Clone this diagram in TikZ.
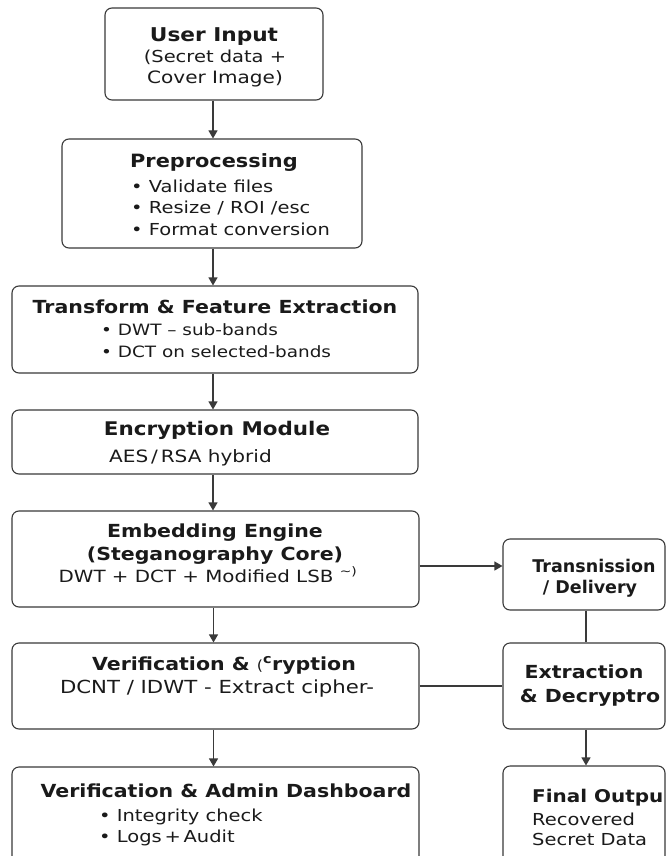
\documentclass[tikz,border=0pt]{standalone}
\usepackage{fontspec}
\setmainfont{DejaVu Sans}
\newfontfamily\ttlfont{DejaVu Sans}[FakeStretch=1.14]
\newfontfamily\txtfont{DejaVu Sans}[FakeStretch=1.18]
\usetikzlibrary{arrows.meta,fit}

\definecolor{ink}{HTML}{1A1A1A}
\definecolor{edge}{HTML}{3A3A3A}
\newcommand\fsz[1]{\fontsize{#1}{#1}\selectfont}

\tikzset{
  box/.style={draw=edge, line width=1.1pt, rounded corners=7pt, inner sep=0pt, fill=white},
  ttl/.style={font=\ttlfont\bfseries\fontsize{18}{22}\selectfont, text=ink, inner sep=0pt, anchor=base},
  txt/.style={font=\txtfont\fontsize{16.5}{20}\selectfont, text=ink, inner sep=0pt, anchor=base},
  link/.style={draw=edge, line width=1.1pt},
  flow/.style={link, -{Triangle[width=9pt,length=8pt]}}
}

\begin{document}
\begin{tikzpicture}[x=1pt,y=-1pt]
\useasboundingbox (0,0) rectangle (667,856);
\clip (0,0) rectangle (667,856);
\fill[white] (0,0) rectangle (667,856);

% main column boxes
\node[box, fit={(105,8) (323,100)}] (inp) {};
\node[box, fit={(62,139) (362,248)}] (pre) {};
\node[box, fit={(12,286) (418,373)}] (trf) {};
\node[box, fit={(12,410) (418,474)}] (enc) {};
\node[box, fit={(12,511) (419,607)}] (emb) {};
\node[box, fit={(12,643) (419,729)}] (ver) {};
\node[box, fit={(12,767) (419,880)}] (adm) {};

% right column boxes
\node[box, fit={(503,539) (665,610)}] (trn) {};
\node[box, fit={(503,643) (665,729)}] (ext) {};
\node[box, fit={(503,766) (665,880)}] (out) {};

% user input
\node[ttl] (inp1) at (214,42) {\fsz{19}User Input};
\node[txt] (inp2) at (215,63) {(Secret data +};
\node[txt] (inp3) at (215,84) {\fsz{17}Cover Image)};

% preprocessing
\node[ttl, anchor=base west] (pre1) at (130,167) {\fsz{18.3}Preprocessing};
\node[txt, anchor=base west] (pre2) at (131,192) {• Validate files};
\node[txt, anchor=base west] (pre3) at (131,213) {• Resize / ROI /esc};
\node[txt, anchor=base west] (pre4) at (131,235) {• Format conversion};

% transform
\node[ttl] (trf1) at (215,313) {Transform \& Feature Extraction};
\node[txt, anchor=base west] (trf2) at (101,335) {\fsz{15.6}• DWT – sub-bands};
\node[txt, anchor=base west] (trf3) at (101,357) {\fsz{15.6}• DCT on selected-bands};

% encryption
\node[ttl] (enc1) at (217,435) {\fsz{18.8}Encryption Module};
\node[txt, anchor=base west] (enc2) at (109,462) {\fsz{17}AES\,/\,RSA hybrid};

% embedding
\node[ttl] (emb1) at (215,537) {Embedding Engine};
\node[ttl] (emb2) at (215,560) {(Steganography Core)};
\node[txt] (emb3) at (208,582) {\fsz{16.8}DWT + DCT + Modified LSB \textsuperscript{\textasciitilde)}};

% verification & decryption
\node[ttl] (ver1) at (224,670) {Verification \& {\fsz{14}\mdseries(}\textsuperscript{c}ryption};
\node[txt] (ver2) at (217,693) {\fsz{18}DCNT / IDWT - Extract cipher-};

% admin dashboard
\node[ttl] (adm1) at (226,797) {Verification \& Admin Dashboard};
\node[txt, anchor=base west] (adm2) at (99,821) {• Integrity check};
\node[txt, anchor=base west] (adm3) at (99,842) {• Logs\,+\,Audit};

% right column texts
\node[ttl, font=\bfseries\fontsize{17.5}{20}\selectfont] (trn1) at (594,572) {Transnission};
\node[ttl, font=\bfseries\fontsize{17.5}{20}\selectfont] (trn2) at (590,593) {/ Delivery};
\node[ttl] (ext1) at (584,678) {Extraction};
\node[ttl] (ext2) at (590,702) {\& Decryptro};
\node[ttl, anchor=base west] (out1) at (532,802) {\fsz{17.5}Final Outpu};
\node[txt, anchor=base west] (out2) at (532,825) {Recovered};
\node[txt, anchor=base west] (out3) at (532,845) {Secret Data};

% main flow
\draw[flow] ([xshift=-1pt]inp.south) -- ([xshift=-1pt]inp.south |- pre.north);
\draw[flow] ([xshift=1pt]pre.south) -- ([xshift=1pt]pre.south |- trf.north);
\draw[flow] ([xshift=-2pt]trf.south) -- ([xshift=-2pt]trf.south |- enc.north);
\draw[flow] ([xshift=-2pt]enc.south) -- ([xshift=-2pt]enc.south |- emb.north);
\draw[flow] ([xshift=-2pt]emb.south) -- ([xshift=-2pt]emb.south |- ver.north);
\draw[flow] ([xshift=-2pt]ver.south) -- ([xshift=-2pt]ver.south |- adm.north);

% side branch
\draw[flow] ([yshift=-7pt]emb.east) -- ([yshift=-7pt]emb.east -| trn.west);
\draw[link] ([xshift=2pt]trn.south) -- ([xshift=2pt]trn.south |- ext.north);
\draw[link] (ver.east) -- (ext.west);
\draw[flow] ([xshift=2pt]ext.south) -- ([xshift=2pt]ext.south |- out.north);
\end{tikzpicture}
\end{document}
